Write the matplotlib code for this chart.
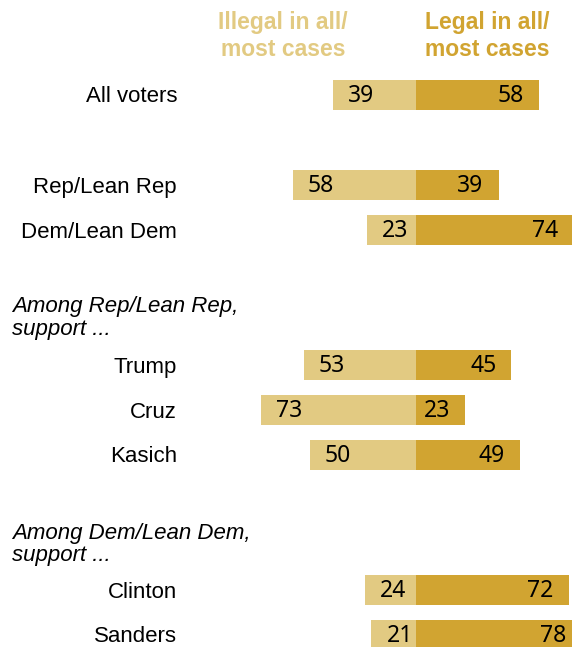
import matplotlib
matplotlib.use("Agg")
import matplotlib.pyplot as plt

# Data (percent)
categories = ["All voters", "Rep/Lean Rep", "Dem/Lean Dem",
              "Trump", "Cruz", "Kasich", "Clinton", "Sanders"]
illegal = [39, 58, 23, 53, 73, 50, 24, 21]
legal = [58, 39, 74, 45, 23, 49, 72, 78]
group_notes = ["Among Rep/Lean Rep,\nsupport ...", "Among Dem/Lean Dem,\nsupport ..."]
series_names = ["Illegal in all/\nmost cases", "Legal in all/\nmost cases"]

# Layout
slots = [0, 2, 3, 6, 7, 8, 11, 12]
note_slots = [4.95, 9.99]
light = "#E2CA82"
dark = "#D1A431"
px_per_unit = 2.12
zero_px = 416
W, H = 572, 647
row_px = 45
first_px = 95

plt.rcParams["font.family"] = ["Liberation Sans", "DejaVu Sans"]

fig = plt.figure(figsize=(W / 100, H / 100), dpi=100)
ax = fig.add_axes([0, 0, 1, 1])
ax.set_xlim(-zero_px / px_per_unit, (W - zero_px) / px_per_unit)
ax.set_ylim((H - first_px) / row_px, -first_px / row_px)
ax.axis("off")

bar_h = 30 / row_px
ax.barh(slots, [-v for v in illegal], height=bar_h, color=light)
ax.barh(slots, legal, height=bar_h, color=dark)

pad = 15 / px_per_unit
label_x = -(zero_px - 177) / px_per_unit
dy = 2 / row_px
num_font = ["Noto Sans", "DejaVu Sans"]
for s, cat, il, lg in zip(slots, categories, illegal, legal):
    ax.text(label_x, s + dy, cat, ha="right", va="center", fontsize=16, color="black")
    ax.text(-il + pad, s + 1 / row_px, str(il), ha="left", va="center",
            fontsize=16.5, family=num_font, color="black")
    ax.text(lg - pad, s + 1 / row_px, str(lg), ha="right", va="center",
            fontsize=16.5, family=num_font, color="black")

note_x = -(zero_px - 12) / px_per_unit
for ns, note in zip(note_slots, group_notes):
    ax.text(note_x, ns, note, ha="left", va="center", fontsize=16,
            style="italic", linespacing=1.1)

head_y = (36 - first_px) / row_px
ax.text(-(zero_px - 283) / px_per_unit, head_y, series_names[0], ha="center",
        va="center", fontsize=16.5, fontweight="bold", color=light, linespacing=1.2)
ax.text((487 - zero_px) / px_per_unit, head_y, series_names[1], ha="center",
        va="center", fontsize=16.5, fontweight="bold", color=dark, linespacing=1.2)

fig.savefig("out.png", dpi=100)
